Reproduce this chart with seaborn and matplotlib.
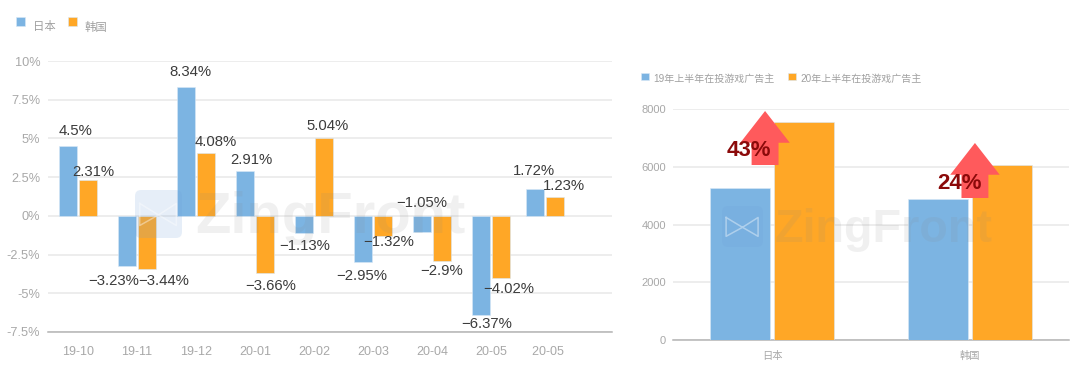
import matplotlib
matplotlib.use("Agg")
import matplotlib.pyplot as plt
from matplotlib.lines import Line2D
from matplotlib.patches import FancyArrow, FancyBboxPatch
from matplotlib.transforms import IdentityTransform
import pandas as pd
import seaborn as sns

months = ["19-10", "19-11", "19-12", "20-01", "20-02", "20-03", "20-04", "20-05", "20-05 "]
japan = [4.5, -3.23, 8.34, 2.91, -1.13, -2.95, -1.05, -6.37, 1.72]
korea = [2.31, -3.44, 4.08, -3.66, 5.04, -1.32, -2.9, -4.02, 1.23]
countries = ["日本", "韩国"]
adv_2019 = [5260, 4900]
adv_2020 = [7550, 6060]
growth = ["43%", "24%"]
series_left = ["日本", "韩国"]
series_right = ["19年上半年在投游戏广告主", "20年上半年在投游戏广告主"]
yticks_left = [10, 7.5, 5, 2.5, 0, -2.5, -5, -7.5]
ylabels_left = ["10%", "7.5%", "5%", "2.5%", "0%", "-2.5%", "-5%", "-7.5%"]
yticks_right = [0, 2000, 4000, 6000, 8000]

# label placement (pixels from bar centre / bar end), kept apart from the data
japan_off = [(7, 15), (-14, -15), (4, 15), (6, 11), (0, -13), (-2, -14), (-1, 29), (5, -9), (-1.5, 18)]
korea_off = [(6, 8), (17, -12), (10, 11), (6, -13), (4, 12), (6, -6), (0, -10), (8, -11), (9, 11)]

BLUE, ORANGE = "#7cb4e2", "#ffa726"
plt.rcParams["font.family"] = ["Liberation Sans", "Noto Sans CJK SC", "DejaVu Sans"]

W, H = 1080, 373
fig = plt.figure(figsize=(W / 100, H / 100), dpi=100, facecolor="white")


def box(x0, x1, ytop, ybot):
    return [x0 / W, 1 - ybot / H, (x1 - x0) / W, (ybot - ytop) / H]


ax1 = fig.add_axes(box(48, 612, 61, 332))
ax2 = fig.add_axes(box(673, 1069, 109, 340))

df1 = pd.DataFrame({"m": months * 2, "v": japan + korea,
                    "s": [series_left[0]] * 9 + [series_left[1]] * 9})
sns.barplot(df1, x="m", y="v", hue="s", palette=[BLUE, ORANGE], width=0.66, gap=0.08,
            saturation=1, ax=ax1, zorder=3, edgecolor="#d8e8f6", linewidth=0.4)
df2 = pd.DataFrame({"c": countries * 2, "v": adv_2019 + adv_2020,
                    "s": [series_right[0]] * 2 + [series_right[1]] * 2})
sns.barplot(df2, x="c", y="v", hue="s", palette=[BLUE, ORANGE], width=0.65, gap=0.075,
            saturation=1, ax=ax2, zorder=3, edgecolor="#d8e8f6", linewidth=0.4)

# the last group sits slightly left of its tick in the reference
for cont in ax1.containers[:2]:
    last = cont.patches[-1]
    last.set_x(last.get_x() - 0.085)

for ax in (ax1, ax2):
    ax.set_xlabel("")
    ax.set_ylabel("")
    for s in ax.spines.values():
        s.set_visible(False)
    ax.spines["bottom"].set_visible(True)
    ax.spines["bottom"].set_color("#b4b4b4")
    ax.spines["bottom"].set_linewidth(1.1)
    ax.grid(axis="y", color="#e8e8e8", lw=1.1, zorder=0)
    ax.grid(axis="x", visible=False)
    ax.set_axisbelow(True)
    ax.tick_params(length=0, colors="#a8a8a8")

ax1.set_ylim(-7.5, 10)
ax1.set_xlim(-0.508, 9.05)
ax1.set_yticks(yticks_left, ylabels_left)
ax1.tick_params(axis="y", labelsize=9.2, pad=5.5)
ax1.tick_params(axis="x", labelsize=9, pad=10)
ax2.set_ylim(0, 8000)
ax2.set_xlim(-0.5, 1.5)
ax2.set_yticks(yticks_right)
ax2.tick_params(axis="y", labelsize=8, pad=5)
ax2.tick_params(axis="x", labelsize=7.4, pad=8)

# value labels
for cont, vals, offs in zip(ax1.containers[:2], (japan, korea), (japan_off, korea_off)):
    for rect, v, (dx, dy) in zip(cont.patches, vals, offs):
        txt = f"{v:g}%".replace("-", "\u2212")
        ax1.annotate(txt, (rect.get_x() + rect.get_width() / 2, v),
                     xytext=(dx * 0.72, dy * 0.72), textcoords="offset points",
                     ha="center", va="center", fontsize=10.7, color="#3c3c3c", zorder=6)

# legends
legend_specs = ((ax1, (5 / W, 1 - 10 / H), 8.2, 1.0, 0.7, 3.6),
                (ax2, (631 / W, 1 - 64 / H), 7.2, 1.3, 0.45, 1.5))
for ax, loc, fs, col, pad, lift in legend_specs:
    h, l = ax.get_legend_handles_labels()
    leg = ax.legend(h, l, loc="upper left", bbox_to_anchor=loc, bbox_transform=fig.transFigure,
                    ncol=2, frameon=False, fontsize=fs, labelcolor="#a0a0a0",
                    handlelength=0.8, handleheight=0.8, handletextpad=pad,
                    columnspacing=col, borderpad=0.5)
    for p in leg.get_patches():
        p.set_y(p.get_y() + lift)

# growth arrows
arrow_specs = [(-0.035, 6060, 7931), (1.025, 4918, 6823)]
for (x, y0, y1), g in zip(arrow_specs, growth):
    ax2.add_patch(FancyArrow(x, y0, 0, y1 - y0, width=0.136, head_width=0.25,
                             head_length=1100, length_includes_head=True,
                             facecolor="#ff5a5c", edgecolor="none", zorder=5))
    ax2.text(x - 0.08, y0 + 510, g, ha="center", va="center", fontsize=16,
             fontweight="bold", color="#8b0a0a", zorder=6)

# ZingFront watermark: icon box (left, top, size) and word (left, baseline, size)
marks = ((135, 190, 47, 48, 195, 233, 41.8), (722, 206, 41, 41, 775, 242, 33.7))
bow = [(0.10, 0.28), (0.50, 0.52), (0.88, 0.28), (0.88, 0.74), (0.50, 0.52), (0.10, 0.74), (0.10, 0.28)]
for ix, iy, iw, ih, tx, ty, fs in marks:
    fig.add_artist(FancyBboxPatch((ix + 4, H - iy - ih + 4), iw - 8, ih - 8,
                                  boxstyle="round,pad=4,rounding_size=6",
                                  transform=IdentityTransform(),
                                  facecolor="#6f9fd8", edgecolor="none", alpha=0.17, zorder=7))
    fig.add_artist(Line2D([ix + iw * a for a, b in bow], [H - iy - ih * b for a, b in bow],
                          transform=IdentityTransform(), color="white", alpha=0.4, lw=1.1, zorder=7))
    fig.text(tx / W, 1 - ty / H, "ZingFront", fontsize=fs, fontweight="bold", color="#888888",
             alpha=0.12, va="baseline", ha="left", zorder=7)

fig.savefig("out.png", dpi=100)
